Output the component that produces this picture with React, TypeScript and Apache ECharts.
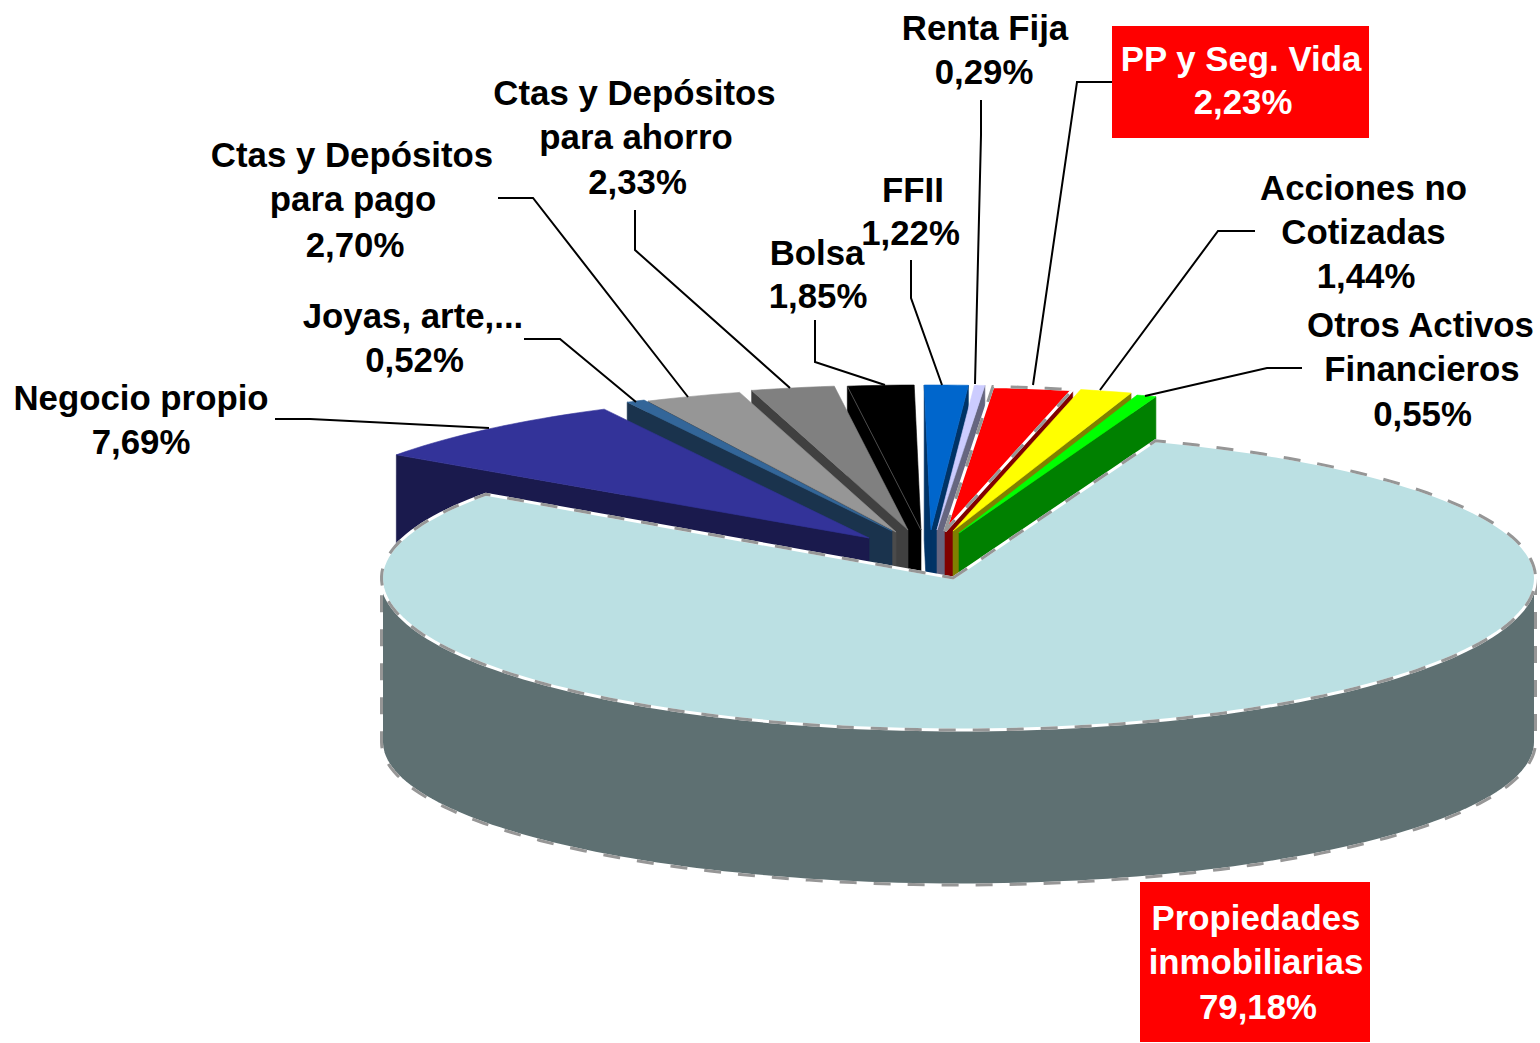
import React, { useEffect, useRef } from "react";
import * as echarts from "echarts";

const sliceNames = ["Negocio propio", "Joyas, arte,...", "Ctas y Depósitos para pago", "Ctas y Depósitos para ahorro", "Bolsa", "FFII", "Renta Fija", "PP y Seg. Vida", "Acciones no Cotizadas", "Otros Activos Financieros", "Propiedades inmobiliarias"];
const sliceValues = [7.69, 0.52, 2.7, 2.33, 1.85, 1.22, 0.29, 2.23, 1.44, 0.55, 79.18];
const topColors = ["#333399", "#336699", "#969696", "#808080", "#000000", "#0066cc", "#ccccff", "#ff0000", "#ffff00", "#00ff00", "#bbe0e3"];
const sideColors = ["#1a1a4d", "#1a334d", "#4b4b4b", "#404040", "#000000", "#003366", "#666680", "#800000", "#808000", "#008000", "#5e7072"];
const labelLines = [["Negocio propio"], ["Joyas, arte,..."], ["Ctas y Depósitos", "para pago"], ["Ctas y Depósitos", "para ahorro"], ["Bolsa"], ["FFII"], ["Renta Fija"], ["PP y Seg. Vida"], ["Acciones no", "Cotizadas"], ["Otros Activos", "Financieros"], ["Propiedades", "inmobiliarias"]];

// Layout (not data): exploded centres, visible cut faces, painter's order
const explodedCenters = [[869, 538], [892, 531], [896, 532], [908, 530], [921, 530], [931, 530], [937, 530], [945, 531], [953, 531], [959, 533]];
const cutFaces = ["L", "L", "L", "L", "L", "LR", "R", "R", "R", "R"];
const drawOrder = [4, 3, 2, 1, 0, 5, 6, 7, 8, 9, 10];
const lineCentersX = [[141], [413], [352, 353], [634.5, 636], [817], [913], [985], [1241], [1363.5, 1363.5], [1420.5, 1422], [1256, 1256]];
const percentCentersX = [141, 414.5, 355, 637.5, 818, 910.5, 984, 1243, 1366, 1422.5, 1258];
const firstLineY = [397, 315, 154, 92, 252, 189, 27, 58, 187, 324, 917];
const percentY = [441, 359, 244, 181, 295, 232, 71, 101, 275, 413, 1006];
const leaders = [
  [[275, 419], [310, 419], [489, 428]],
  [[524, 339], [560, 339], [636, 402]],
  [[498, 198], [533, 198], [688, 397]],
  [[635, 210], [635, 250], [790, 388]],
  [[815, 320], [815, 362], [885, 385]],
  [[911, 260], [911, 298], [942, 385]],
  [[981, 100], [981, 135], [975, 384]],
  [[1112, 82], [1077, 82], [1033, 385]],
  [[1255, 231], [1218, 231], [1100, 390]],
  [[1302, 368], [1267, 368], [1145, 396]],
];
const redBoxes = [[1112, 26, 257, 112], [1140, 882, 230, 160]];

const RX = 577, SMALL_RY = 145, DEPTH = 155, START_DEG = -55, LINE_GAP = 44;
const MAIN = { cx: 958.5, cy: 578, ryBack: 146, ryFront: 152, apexX: 953, apexY: 578, bottomCy: 742, bottomRy: 143 };
const total = sliceValues.reduce((a, b) => a + b, 0);
const rad = (d: number) => (d * Math.PI) / 180;
const spans = sliceValues.map((_, i) => {
  const before = sliceValues.slice(0, i).reduce((a, b) => a + b, 0);
  return [START_DEG + (before / total) * 360, START_DEG + ((before + sliceValues[i]) / total) * 360];
});
const arc = (cx: number, cy: number, from: number, to: number, ry: (deg: number) => number) => {
  const steps = Math.max(4, Math.ceil(Math.abs(to - from) / 1.5));
  const pts: number[][] = [];
  for (let k = 0; k <= steps; k++) {
    const d = from + ((to - from) * k) / steps;
    pts.push([cx + RX * Math.sin(rad(d)), cy - ry(d) * Math.cos(rad(d))]);
  }
  return pts;
};
const poly = (points: number[][], fill: string) => ({
  type: "polygon",
  shape: { points },
  style: { fill, stroke: fill, lineWidth: 0.6 },
});
const dashedBorder = (points: number[][], fill: string) => [
  { type: "polygon", shape: { points }, style: { fill, stroke: "#ffffff", lineWidth: 3 } },
  { type: "polygon", shape: { points }, style: { fill: "none", stroke: "#969696", lineWidth: 3, lineDash: [17, 17] } },
];

const renderItem = (params: any) => {
  const i = drawOrder[params.dataIndex];
  const [from, to] = spans[i];
  const color = topColors[i];
  const side = sideColors[i];
  if (i === sliceValues.length - 1) {
    const ryTop = (d: number) => (Math.cos(rad(d)) > 0 ? MAIN.ryBack : MAIN.ryFront);
    const bottom = arc(MAIN.cx, MAIN.bottomCy, 90, 270, () => MAIN.bottomRy);
    const sidePts = [[MAIN.cx + RX, MAIN.cy], ...bottom, [MAIN.cx - RX, MAIN.cy]];
    const topPts = [[MAIN.apexX, MAIN.apexY], ...arc(MAIN.cx, MAIN.cy, from, to, ryTop)];
    return { type: "group", children: [...dashedBorder(sidePts, side), ...dashedBorder(topPts, color)] };
  }
  const [cx, cy] = explodedCenters[i];
  const outer = arc(cx, cy, from, to, () => SMALL_RY);
  const children: any[] = [];
  const face = (p: number[]) => [p, [cx, cy], [cx, cy + DEPTH], [p[0], p[1] + DEPTH]];
  if (cutFaces[i].includes("L")) children.push(poly(face(outer[0]), side));
  if (cutFaces[i].includes("R")) children.push(poly(face(outer[outer.length - 1]), side));
  const topPts = [[cx, cy], ...outer];
  if (i === 7) children.push(...dashedBorder(topPts, color));
  else children.push(poly(topPts, color));
  if (i === 4) children.push({ type: "line", shape: { x1: outer[0][0], y1: outer[0][1], x2: cx, y2: cy }, style: { stroke: "#666666", lineWidth: 0.7 } });
  return { type: "group", children };
};

const percent = (v: number) => v.toFixed(2).replace(".", ",") + "%";
const FONT = "'Liberation Sans', Arial, sans-serif";

export default function App() {
  const ref = useRef<HTMLDivElement>(null);
  useEffect(() => {
    const chart = echarts.init(ref.current!, undefined, { renderer: "svg" });
    const white = new Set([7, 10]);
    const textEl = (text: string, x: number, y: number, i: number) => ({
      type: "text",
      x,
      y,
      z: 12,
      style: {
        text,
        fill: white.has(i) ? "#ffffff" : "#000000",
        font: `bold 34.8px ${FONT}`,
        align: "center",
        verticalAlign: "middle",
      },
    });
    chart.setOption({
      animation: false,
      backgroundColor: "#ffffff",
      series: [
        {
          type: "custom",
          coordinateSystem: "none",
          renderItem,
          silent: true,
          data: drawOrder.map((i) => ({ name: sliceNames[i], value: [sliceValues[i]] })),
        },
      ],
      graphic: {
        elements: [
          ...redBoxes.map(([x, y, width, height]) => ({
            type: "rect",
            shape: { x, y, width, height },
            style: { fill: "#ff0000" },
            z: 10,
          })),
          ...leaders.map((points) => ({
            type: "polyline",
            shape: { points },
            style: { stroke: "#000000", lineWidth: 2, fill: "none" },
            z: 11,
          })),
          ...labelLines.flatMap((lines, i) => [
            ...lines.map((line, k) => textEl(line, lineCentersX[i][k], firstLineY[i] + k * LINE_GAP, i)),
            textEl(percent(sliceValues[i]), percentCentersX[i], percentY[i], i),
          ]),
        ],
      },
    });
    return () => chart.dispose();
  }, []);
  return <div ref={ref} style={{ position: "absolute", left: 0, top: 0, width: 1540, height: 1043 }} />;
}
